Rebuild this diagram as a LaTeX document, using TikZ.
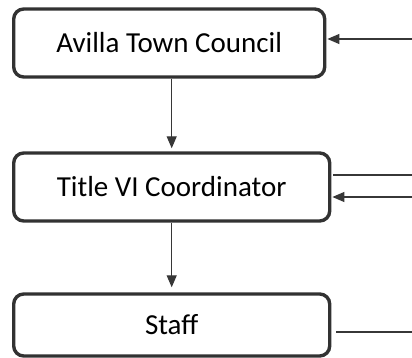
\documentclass[tikz,border=0pt]{standalone}
\usepackage{fontspec}
\setmainfont{Carlito}
\usepackage{xcolor}
\definecolor{boxgray}{RGB}{50,50,50}
\definecolor{linegray}{RGB}{55,55,55}
\usetikzlibrary{arrows.meta}
\newcommand{\widthbox}{158pt}
\tikzset{
    common/.style={draw=boxgray, rectangle, rounded corners=5pt, line width=1.7pt, fill=white},
    unit/.style={common, minimum width=\widthbox, minimum height=34pt, font=\fontsize{14.5pt}{17pt}\selectfont},
    link/.style={draw=linegray, line width=0.6pt},
    flow/.style={link, -{Triangle[length=6pt, width=5pt]}}
}

\begin{document}
\begin{tikzpicture}[x=1pt, y=1pt]
          \useasboundingbox (0,0) rectangle (206,179);

          \path
              (6,157.5) node[unit, anchor=west, minimum width=155.5pt] (council) {Avilla Town Council}
              (6,85.5) node[unit, anchor=west] (coordinator) {Title VI Coordinator}
              (6,16.5) node[unit, anchor=west, minimum height=31pt] (staff) {\raisebox{-2.5pt}{Staff}};

          \coordinate (council-in) at (206,159.5);
          \coordinate (coordinator-out) at (206,91.5);
          \coordinate (coordinator-in) at (206,80.5);
          \coordinate (staff-out) at (206,13);

          \draw[flow, shorten >=1.5pt] (council.south -| coordinator.north) -- (coordinator.north);
          \draw[flow, shorten >=2.5pt] (coordinator.south) -- (staff.north);

          \draw[flow, shorten >=0.5pt] (council-in) -- (council-in -| council.east);
          \draw[link, shorten >=1pt] (coordinator-out) -- (coordinator-out -| coordinator.east);
          \draw[flow, shorten >=0.5pt] (coordinator-in) -- (coordinator-in -| coordinator.east);
          \draw[link, shorten >=2.5pt] (staff-out) -- (staff-out -| staff.east);
        \end{tikzpicture}
\end{document}
